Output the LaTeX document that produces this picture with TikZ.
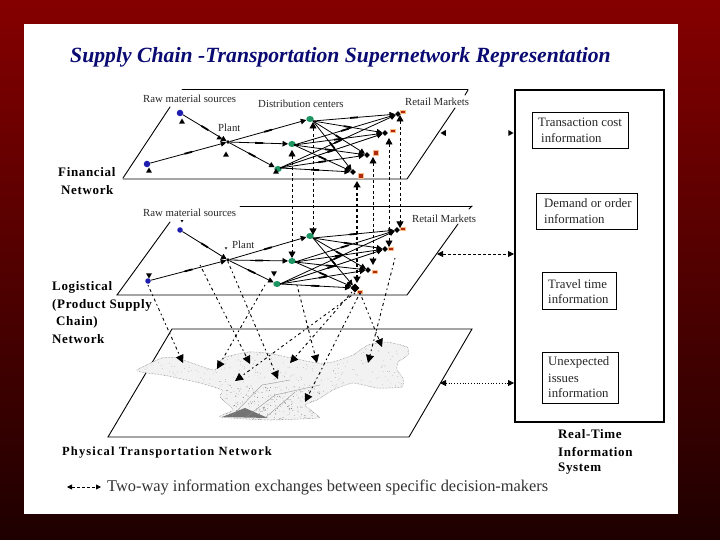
\documentclass[tikz,border=0pt]{standalone}
\usepackage{fontspec}
\setmainfont{Liberation Serif}
\usetikzlibrary{arrows.meta,decorations.markings,shapes.geometric}
\definecolor{titleblue}{RGB}{10,10,115}
\definecolor{rawblue}{RGB}{30,30,175}
\definecolor{dcgreen}{RGB}{30,150,100}
\definecolor{retailred}{RGB}{175,40,15}
\definecolor{retailglow}{RGB}{250,190,130}
\tikzset{
  plane/.style={line width=0.9pt,black,line cap=round},
  lab/.style={inner sep=0pt,anchor=west,font=\fontsize{10.8}{12}\selectfont,text=black!85},
  boldlab/.style={inner sep=0pt,anchor=west,font=\fontsize{13}{15}\selectfont\bfseries\addfontfeatures{LetterSpace=5},text=black},
  boxtxt/.style={inner sep=0pt,anchor=west,font=\fontsize{12.8}{14}\selectfont,text=black!85},
  infobox/.style={draw=black,line width=0.8pt,fill=white},
  raw/.style={circle,fill=rawblue,inner sep=0pt,minimum size=6.5pt},
  dc/.style={ellipse,fill=dcgreen,inner sep=0pt,minimum width=7.5pt,minimum height=6pt},
  retail/.style={rectangle,fill=retailred,inner sep=0pt,minimum width=5pt,minimum height=3.5pt,
    draw=retailglow,line width=0.9pt},
  hub/.style={diamond,fill=black,inner sep=0pt,minimum size=6pt},
  tri/.style={regular polygon,regular polygon sides=3,fill=black,inner sep=0pt,minimum size=8pt},
  tridown/.style={tri,shape border rotate=180},
  trileft/.style={tri,shape border rotate=90},
  triright/.style={tri,shape border rotate=-90},
  netlink/.style={line width=0.8pt,-{Triangle[length=5.5pt,width=5.5pt]},
    postaction={decorate,decoration={markings,mark=at position 0.5 with {\fill[black] (-4pt,-0.9pt) rectangle (4pt,0.9pt);}}}},
  vlink/.style={line width=0.9pt,dash pattern=on 3pt off 2.5pt,{Triangle[length=6.5pt,width=7pt]}-{Triangle[length=6.5pt,width=7pt]}},
  dotlink/.style={line width=0.9pt,dash pattern=on 1.5pt off 3pt on 3pt off 3pt,-{Triangle[length=8pt,width=8pt]}},
}
\begin{document}
\begin{tikzpicture}[x=1pt,y=-1pt]
\useasboundingbox (0,0) rectangle (720,540);
\shade[top color=red!52!black,bottom color=red!12!black] (0,0) rectangle (720,540);
\fill[white] (24,24) rectangle (678,514);

% title
\node[inner sep=0pt,anchor=west,text=titleblue,font=\fontsize{21.7}{24}\selectfont\bfseries\itshape] (title) at (70,57) {Supply Chain -Transportation Supernetwork Representation};

% planes
\draw[plane] (170,107) -- (123,178);
\draw[plane] (123,179) -- (407,179) -- (455,108);
\draw[plane] (465,95) -- (468,90);
\draw[plane] (182,89) -- (468,89);
\draw[plane] (170,222) -- (117,295) -- (407,295) -- (458,224);
\draw[plane] (469,209) -- (472,206);
\draw[plane] (240,206) -- (472,206);
\draw[plane] (172,329) -- (472,329) -- (409,437) -- (108,437) -- cycle;

% physical map
\begin{scope}
\path[clip] plot[smooth cycle,tension=0.3] coordinates {
 (137,370) (162,358) (177,358) (203,367) (215,370) (223,358) (248,352) (267,353) (287,357) (317,363) (333,362) (353,355) (368,345) (387,342) (407,347) (408,355) (398,362) (397,370) (403,378) (402,387) (377,388) (353,383) (333,390) (317,400) (305,405) (317,415) (318,418) (270,420) (220,417) (233,410) (220,397) (222,390) (200,383) (163,375) (147,373)};
\fill[gray!10] (120,330) rectangle (420,430);
\pgfmathsetseed{7}
\foreach \i in {1,...,650} {
  \pgfmathsetmacro{\px}{130+rnd*285}
  \pgfmathsetmacro{\py}{340+rnd*82}
  \fill[black!38] (\px,\py) circle[radius=0.35pt];
}
\foreach \i in {1,...,160} {
  \pgfmathsetmacro{\px}{225+rnd*95}
  \pgfmathsetmacro{\py}{385+rnd*35}
  \fill[black!60] (\px,\py) circle[radius=0.4pt];
}
\fill[black!55] (222,417) -- (245,408) -- (268,418) -- cycle;
\draw[black!45,line width=0.35pt] (232,416) -- (262,385) -- (290,380) (245,418) -- (275,395) -- (320,385) (265,418) -- (295,392);
\end{scope}
\draw[black!55,line width=0.5pt,densely dotted] plot[smooth cycle,tension=0.3] coordinates {
 (137,370) (162,358) (177,358) (203,367) (215,370) (223,358) (248,352) (267,353) (287,357) (317,363) (333,362) (353,355) (368,345) (387,342) (407,347) (408,355) (398,362) (397,370) (403,378) (402,387) (377,388) (353,383) (333,390) (317,400) (305,405) (317,415) (318,418) (270,420) (220,417) (233,410) (220,397) (222,390) (200,383) (163,375) (147,373)};

% financial network nodes
\node[raw] (fa) at (180,113) {};
\node[raw] (fb) at (147,164) {};
\node[hub,minimum size=4pt] (fp) at (228,142) {};
\node[dc] (fd1) at (310,119) {};
\node[dc] (fd2) at (292,144) {};
\node[dc] (fd3) at (278,169) {};
\coordinate (fs1) at (313,121);
\coordinate (fs2) at (294,145);
\coordinate (fs3) at (280,168);
\node[hub] (fh1) at (398,114) {};
\node[hub] (fh2) at (385,133) {};
\node[hub] (fh3) at (367,155) {};
\node[hub] (fh4) at (353,172) {};
\node[retail] (fr1) at (403,112) {};
\node[retail] (fr2) at (393,131) {};
\node[retail,minimum width=4.5pt,minimum height=4.5pt] (fr3) at (376,153) {};
\node[retail,minimum width=4.5pt,minimum height=4.5pt] (fr4) at (361,176) {};

% logistical network nodes
\node[raw,minimum size=5.5pt] (la) at (180,230) {};
\node[raw,minimum size=5.5pt] (lb) at (148,281) {};
\node[hub,minimum size=4pt] (lp) at (228,260) {};
\node[dc] (ld1) at (310,236) {};
\node[dc] (ld2) at (292,261) {};
\node[dc] (ld3) at (277,284) {};
\coordinate (ls1) at (313,238);
\coordinate (ls2) at (295,262);
\coordinate (ls3) at (280,284);
\node[hub] (lh1) at (397,230) {};
\node[hub] (lh2) at (385,249) {};
\node[hub] (lh3) at (368,270) {};
\node[hub,minimum size=9pt] (lh4) at (355,288) {};
\node[retail] (lr1) at (403,229) {};
\node[retail] (lr2) at (391,249) {};
\node[retail] (lr3) at (375,272) {};
\node[retail] (lr4) at (360,292) {};

% financial links
\draw[netlink] (fa) -- (fp);
\draw[netlink] (fb) -- (fp);
\draw[netlink] (fp) -- (fd1);
\draw[netlink] (fp) -- (fd2);
\draw[netlink] (fp) -- (fd3);
\foreach \d in {1,2,3} \foreach \r in {1,2,3,4} \draw[netlink] (fs\d) -- (fh\r);
% logistical links
\draw[netlink] (la) -- (lp);
\draw[netlink] (lb) -- (lp);
\draw[netlink] (lp) -- (ld1);
\draw[netlink] (lp) -- (ld2);
\draw[netlink] (lp) -- (ld3);
\foreach \d in {1,2,3} \foreach \r in {1,2,3,4} \draw[netlink] (ls\d) -- (lh\r);

% markers
\node[tri,minimum size=7pt] (ta1) at (182,122) {};
\node[tri,minimum size=7pt] (tb1) at (149,171) {};
\node[tri,minimum size=7pt] (tp1) at (226,155) {};
\node[tri,minimum size=6pt] (tp2) at (219,138) {};
\node[tri,minimum size=7pt] (tl1) at (276,172) {};
\node[tridown,minimum size=3pt] (ta2) at (182,221) {};
\node[tridown,minimum size=7pt] (tb2) at (149,275) {};
\node[tridown,minimum size=3pt] (tp3) at (226,248) {};
\node[tridown,minimum size=7pt] (tl2) at (274,273) {};

% vertical dashed links between the two networks
\foreach \n/\x/\a/\b in {1/292/150/258,2/313/122/235,4/373/157/265,5/389/138/247,6/400/115/228} {
  \coordinate (vu\n) at (\x,\a);
  \coordinate (vd\n) at (\x,\b);
  \draw[vlink] (vu\n) -- (vd\n);
}
\coordinate (vu3) at (357,181);
\coordinate (vd3) at (357,283);
\draw[vlink,line width=2pt] (vu3) -- (vd3);

% dotted links to the physical network
\foreach \n/\sx/\sy/\ex/\ey in {1/148/285/183/363, 2/200/265/250/364, 3/228/262/278/379, 4/265/285/217/369,
  5/297/285/317/363, 6/355/293/235/381, 7/352/292/290/363, 8/360/293/305/402, 9/360/293/382/347, 10/395/258/368/363} {
  \coordinate (ds\n) at (\sx,\sy);
  \coordinate (de\n) at (\ex,\ey);
  \draw[dotlink] (ds\n) -- (de\n);
}

% labels
\node[lab] (l1) at (143,99) {Raw material sources};
\node[lab] (l2) at (258,104) {Distribution centers};
\node[lab] (l3) at (405,102) {Retail Markets};
\node[lab] (l4) at (218,128) {Plant};
\node[lab] (l5) at (143,213) {Raw material sources};
\node[lab] (l6) at (412,219) {Retail Markets};
\node[lab] (l7) at (232,245) {Plant};
\node[boldlab] (f1) at (58,172) {Financial};
\node[boldlab] (f2) at (61,190) {Network};
\node[boldlab] (g1) at (52,287) {Logistical};
\node[boldlab] (g2) at (52,305) {(Product Supply};
\node[boldlab] (g3) at (56,322) {Chain)};
\node[boldlab] (g4) at (52,339) {Network};
\node[boldlab,font=\fontsize{12.5}{14}\selectfont\bfseries\addfontfeatures{LetterSpace=9}] (phys) at (62,453) {Physical Transportation Network};

% information system
\draw[line width=1.8pt] (515,90) rectangle (664,422);
\node[boldlab] (s1) at (558,434) {Real-Time};
\node[boldlab] (s2) at (558,452) {Information};
\node[boldlab] (s3) at (558,469) {System};
\draw[infobox] (532,112) rectangle (628,148);
\node[boxtxt] (b1a) at (538,122) {Transaction cost};
\node[boxtxt] (b1b) at (541,138) {information};
\draw[infobox] (536,193) rectangle (637,229);
\node[boxtxt] (b2a) at (544,203) {Demand or order};
\node[boxtxt] (b2b) at (544,219) {information};
\draw[infobox] (542,272) rectangle (616,309);
\node[boxtxt] (b3a) at (548,284) {Travel time};
\node[boxtxt] (b3b) at (548,299) {information};
\draw[infobox] (542,352) rectangle (618,403);
\node[boxtxt] (b4a) at (548,362) {Unexpected};
\node[boxtxt] (b4b) at (548,378) {issues};
\node[boxtxt] (b4c) at (548,393) {information};

% links to the information system
\node[trileft,minimum size=7pt] (i1l) at (444,133) {};
\node[triright,minimum size=7pt] (i1r) at (510,133) {};
\coordinate (i2l) at (437,254);
\coordinate (i2r) at (514,254);
\draw[line width=0.8pt,densely dashed,{Triangle[length=6pt,width=6pt]}-{Triangle[length=6pt,width=6pt]}] (i2l) -- (i2r);
\coordinate (i3l) at (440,383);
\coordinate (i3r) at (514,383);
\draw[line width=0.8pt,dotted,{Triangle[length=6pt,width=6pt]}-{Triangle[length=6pt,width=6pt]}] (i3l) -- (i3r);

% legend
\coordinate (k1) at (67,487);
\coordinate (k2) at (101,487);
\draw[line width=0.8pt,densely dashed,{Triangle[length=5pt,width=5pt]}-{Triangle[length=5pt,width=5pt]}] (k1) -- (k2);
\node[inner sep=0pt,anchor=west,text=black!80,font=\fontsize{16.4}{18}\selectfont] (ktext) at (107,487) {Two-way information exchanges between specific decision-makers};
\end{tikzpicture}
\end{document}
